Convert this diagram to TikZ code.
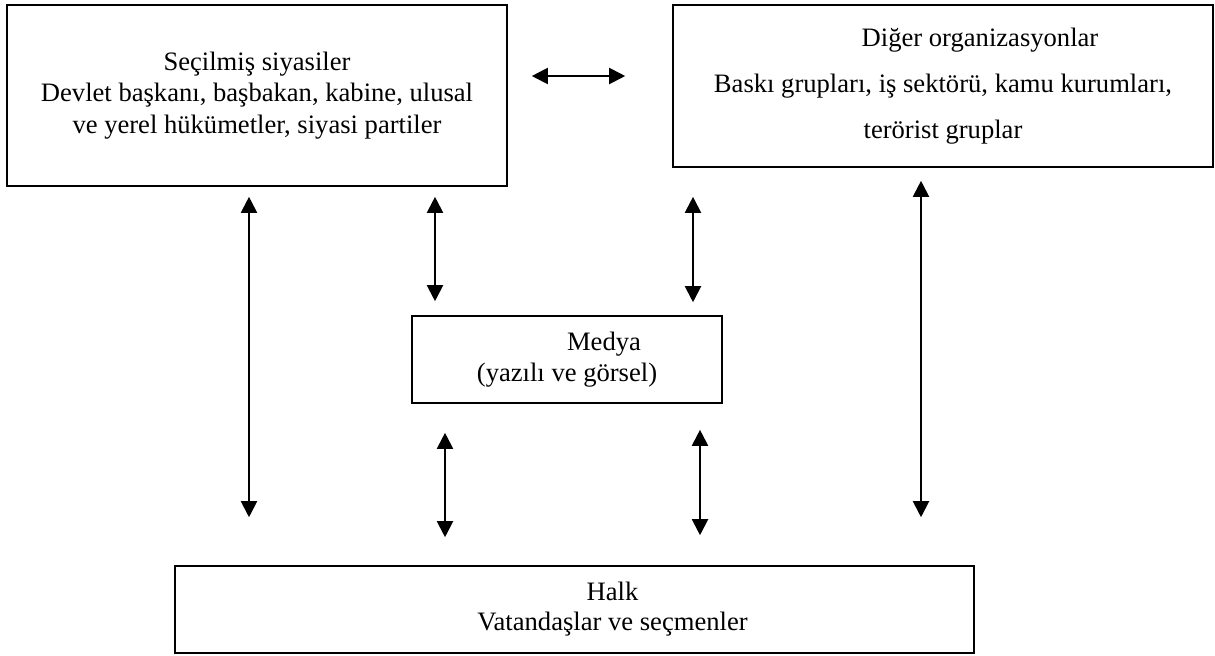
\documentclass[tikz,border=0pt]{standalone}
\usepackage{fontspec}
\setmainfont{Liberation Serif}
\usetikzlibrary{arrows.meta}
\begin{document}
\begin{tikzpicture}[x=0.5pt,y=-0.5pt,
  box/.style={draw, line width=0.8pt, rectangle, align=center, inner sep=0pt},
  txt/.style={font=\fontsize{13.3}{15.75}\selectfont},
  arr/.style={{Triangle[length=8pt,width=8pt]}-{Triangle[length=8pt,width=8pt]}, line width=1pt}]
\useasboundingbox (0,0) rectangle (1215,655);
\node[box, txt, minimum width=250pt, minimum height=90.5pt] (pol) at (257,95.5)
  {Seçilmiş siyasiler\\Devlet başkanı, başbakan, kabine, ulusal\\ve yerel hükümetler, siyasi partiler};
\node[box, font=\fontsize{13.3}{23}\selectfont, minimum width=270pt, minimum height=81pt] (org) at (943,86)
  {\hspace*{37pt}Diğer organizasyonlar\\Baskı grupları, iş sektörü, kamu kurumları,\\terörist gruplar};
\node[box, txt, minimum width=155pt, minimum height=43.5pt] (med) at (567,359.5)
  {\hspace*{37pt}Medya\\(yazılı ve görsel)};
\node[box, font=\fontsize{13.3}{15}\selectfont, minimum width=399.5pt, minimum height=43.5pt] (halk) at (574.5,609.5)
  {\hspace*{38pt}Halk\\\hspace*{38pt}Vatandaşlar ve seçmenler};
% horizontal
\draw[arr, shorten <=12pt, shorten >=23.5pt] ([yshift=9.75pt]pol.east) -- ([yshift=5pt]org.west);
% long left
\draw[arr, shorten <=5pt, shorten >=24pt] ([xshift=-4pt]pol.south) -- ([xshift=-162.75pt]halk.north);
% pol - medya
\draw[arr, shorten <=5pt, shorten >=7pt] ([xshift=89pt]pol.south) -- ([xshift=-66pt]med.north);
% org - medya
\draw[arr, shorten <=14.5pt, shorten >=6.5pt] ([xshift=-125pt]org.south) -- ([xshift=63pt]med.north);
% long right
\draw[arr, shorten <=6.5pt, shorten >=24pt] ([xshift=-11pt]org.south) -- ([xshift=173.25pt]halk.north);
% medya - halk
\draw[arr, shorten <=14.5pt, shorten >=14pt] ([xshift=-61pt]med.south) -- ([xshift=-64.75pt]halk.north);
\draw[arr, shorten <=13pt, shorten >=15pt] ([xshift=66.5pt]med.south) -- ([xshift=62.75pt]halk.north);
\end{tikzpicture}
\end{document}
